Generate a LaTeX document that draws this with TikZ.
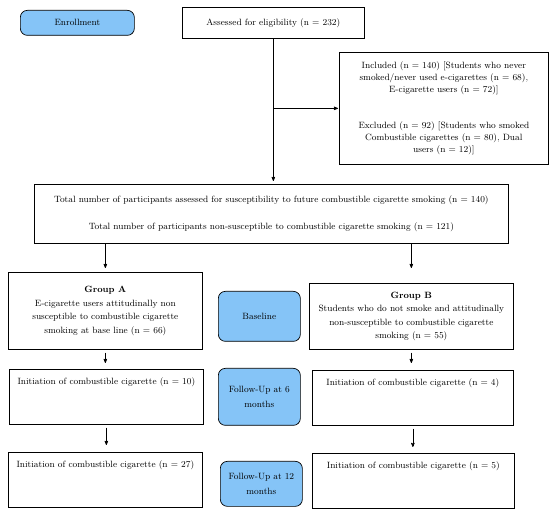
\documentclass[tikz,border=0pt]{standalone}
\usetikzlibrary{arrows}
\definecolor{stageblue}{RGB}{133,196,247}

\begin{document}
\begin{tikzpicture}[->,>=stealth',shorten >=1pt,x=1pt,y=-1pt,line width=0.6pt,
  font=\fontsize{9.1}{12}\selectfont,
  main node/.style={draw,line width=0.7pt,anchor=north west,align=center,inner sep=3pt},
  stage node/.style={main node,rounded corners=7pt,fill=stageblue},
  result node/.style={main node,text height=9pt,text depth=34pt,inner ysep=6pt}]

  \useasboundingbox (0,0) rectangle (550,516);

  % enrolment
  \node[stage node,minimum width=114pt,minimum height=25pt] (enrol) at (20,10) {Enrollment};
  \node[main node,minimum width=182pt,minimum height=31pt] (assess) at (182,7) {Assessed for eligibility (n = 232)};
  \node[main node,minimum width=209pt,minimum height=112pt] (incl) at (339,52)
    {Included (n = 140) [Students who never\\smoked/never used e-cigarettes (n = 68),\\E-cigarette users (n = 72)]\\[24pt]
     Excluded (n = 92) [Students who smoked\\Combustible cigarettes (n = 80), Dual\\users (n = 12)]};
  \node[main node,minimum width=474pt,minimum height=59pt] (total) at (34,184)
    {Total number of participants assessed for susceptibility to future combustible cigarette smoking (n = 140)\\[15pt]
     Total number of participants non-susceptible to combustible cigarette smoking (n = 121)};

  % baseline
  \node[main node,minimum width=194pt,minimum height=77pt] (ga) at (8,272)
    {\textbf{Group A}\\[1.5pt]E-cigarette users attitudinally non\\[1.5pt]susceptible to combustible cigarette\\[1.5pt]smoking at base line (n = 66)};
  \node[stage node,minimum width=82pt,minimum height=50pt] (base) at (218,291) {Baseline};
  \node[main node,minimum width=204pt,minimum height=66pt] (gb) at (309,283)
    {\textbf{Group B}\\[1.5pt]Students who do not smoke and attitudinally\\[1.5pt]non-susceptible to combustible cigarette\\[1.5pt]smoking (n = 55)};

  % follow-up
  \node[result node,minimum width=194pt,minimum height=55pt] (ia6) at (9,369) {Initiation of combustible cigarette (n = 10)};
  \node[stage node,minimum width=82pt,minimum height=57pt] (fu6) at (218,368) {Follow-Up at 6\\[3pt]months};
  \node[result node,minimum width=201pt,minimum height=55pt] (ib6) at (312,370) {Initiation of combustible cigarette (n = 4)};

  \node[result node,minimum width=194pt,minimum height=55pt] (ia12) at (8,452) {Initiation of combustible cigarette (n = 27)};
  \node[stage node,minimum width=82pt,minimum height=45pt] (fu12) at (220,461) {Follow-Up at 12\\[3pt]months};
  \node[result node,minimum width=202pt,minimum height=55pt] (ib12) at (312,453) {Initiation of combustible cigarette (n = 5)};

  \coordinate (split) at (assess.south |- incl.west);

  \draw[shorten >=3pt] (assess.south) -- (assess.south |- total.north);
  \draw (split) -- (incl.west);
  \draw[shorten >=4pt] (total.south -| ga.north) -- (ga.north);
  \draw[shorten >=15pt] (total.south -| gb.north) -- (gb.north);
  \draw[shorten <=3pt,shorten >=6pt] (ga.south) -- (ga.south |- ia6.north);
  \draw[shorten <=3pt,shorten >=7pt] (gb.south) -- (gb.south |- ib6.north);
  \draw[shorten <=3pt,shorten >=7pt] (ia6.south) -- (ia6.south |- ia12.north);
  \draw[shorten <=3pt,shorten >=6pt] (ib6.south) -- (ib6.south |- ib12.north);
\end{tikzpicture}
\end{document}
